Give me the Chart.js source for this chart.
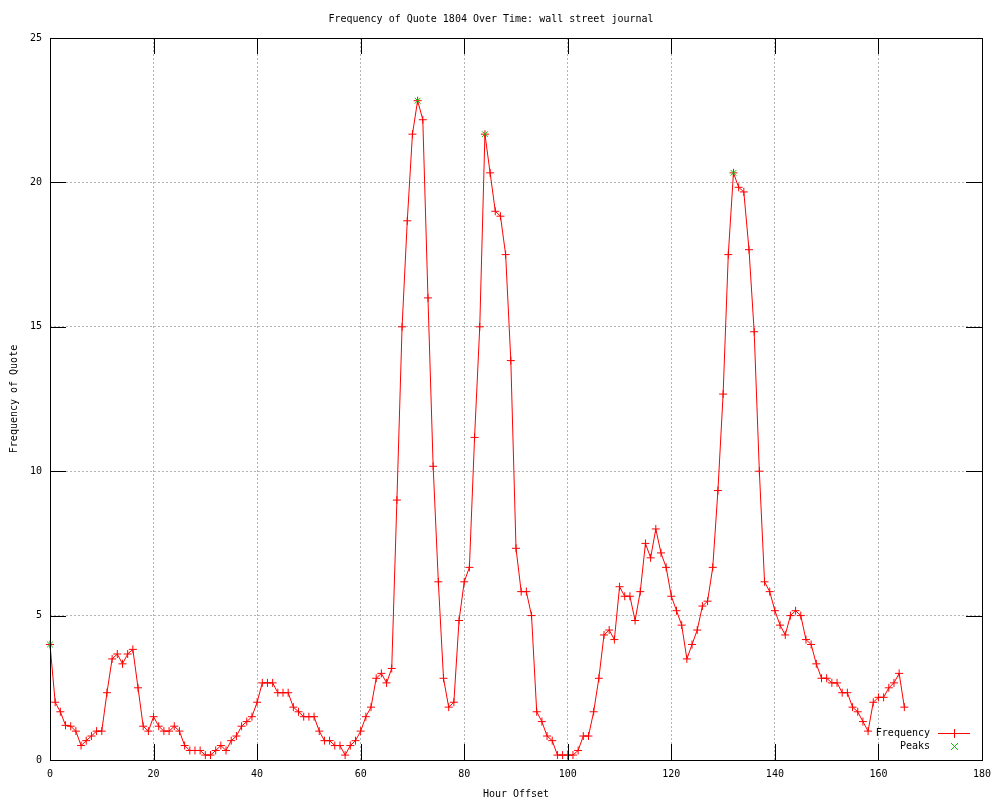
<!DOCTYPE html>
<html>
<head>
<meta charset="utf-8">
<script src="https://cdn.jsdelivr.net/npm/chart.js@4.4.0/dist/chart.umd.min.js"></script>
<style>
  html, body { margin: 0; padding: 0; background: #fff; }
  #wrap { width: 1000px; height: 800px; }
</style>
</head>
<body>
<div id="wrap"><canvas id="quoteChart" width="1000" height="800"></canvas></div>
<script>
// frequency per hour offset (index = hour)
const frequency = [
  4.0, 2.0, 1.67, 1.2, 1.17, 1.0, 0.5, 0.67, 0.83, 1.0,
  1.0, 2.33, 3.5, 3.67, 3.33, 3.67, 3.83, 2.5, 1.17, 1.0,
  1.5, 1.17, 1.0, 1.0, 1.17, 1.0, 0.5, 0.33, 0.33, 0.33,
  0.17, 0.17, 0.33, 0.5, 0.33, 0.67, 0.83, 1.17, 1.33, 1.5,
  2.0, 2.67, 2.67, 2.67, 2.33, 2.33, 2.33, 1.83, 1.67, 1.5,
  1.5, 1.5, 1.0, 0.67, 0.67, 0.5, 0.5, 0.17, 0.5, 0.67,
  1.0, 1.5, 1.83, 2.83, 3.0, 2.67, 3.17, 9.0, 15.0, 18.67,
  21.67, 22.83, 22.17, 16.0, 10.17, 6.17, 2.83, 1.83, 2.0, 4.83,
  6.17, 6.67, 11.17, 15.0, 21.67, 20.33, 19.0, 18.83, 17.5, 13.83,
  7.33, 5.83, 5.83, 5.0, 1.67, 1.33, 0.83, 0.67, 0.17, 0.17,
  0.17, 0.17, 0.33, 0.83, 0.83, 1.67, 2.83, 4.33, 4.5, 4.17,
  6.0, 5.67, 5.67, 4.83, 5.83, 7.5, 7.0, 8.0, 7.17, 6.67,
  5.67, 5.17, 4.67, 3.5, 4.0, 4.5, 5.33, 5.5, 6.67, 9.33,
  12.67, 17.5, 20.33, 19.83, 19.67, 17.67, 14.83, 10.0, 6.17, 5.83,
  5.17, 4.67, 4.33, 5.0, 5.17, 5.0, 4.17, 4.0, 3.33, 2.83,
  2.83, 2.67, 2.67, 2.33, 2.33, 1.83, 1.67, 1.33, 1.0, 2.0,
  2.17, 2.17, 2.5, 2.67, 3.0, 1.83
];
const peakHours = [0, 71, 84, 132];
const peakValues = [4.0, 22.83, 21.67, 20.33];

const xTicks = [0, 20, 40, 60, 80, 100, 120, 140, 160, 180];
const yTicks = [0, 5, 10, 15, 20, 25];

const FONT = { family: "'DejaVu Sans Mono', monospace", size: 10, weight: 'normal' };
const RED = '#ff0000';
const GREEN = '#00c000';

const freqPoints = frequency.map((v, i) => ({ x: i, y: v }));
const peakPoints = peakHours.map((h, i) => ({ x: h, y: peakValues[i] }));

// gnuplot-like frame: border, inward ticks on all four sides, key in the corner
const gnuFrame = {
  id: 'gnuFrame',
  afterDatasetsDraw(chart) {
    const ctx = chart.ctx;
    const a = chart.chartArea;
    const xs = chart.scales.x, ys = chart.scales.y;
    const tl = 16;
    ctx.save();
    ctx.strokeStyle = '#000';
    ctx.lineWidth = 1;
    ctx.beginPath();
    xTicks.forEach(t => {
      const px = Math.round(xs.getPixelForValue(t)) + 0.5;
      ctx.moveTo(px, a.bottom); ctx.lineTo(px, a.bottom - tl);
      ctx.moveTo(px, a.top); ctx.lineTo(px, a.top + tl);
    });
    yTicks.forEach(t => {
      const py = Math.round(ys.getPixelForValue(t)) + 0.5;
      ctx.moveTo(a.left, py); ctx.lineTo(a.left + tl, py);
      ctx.moveTo(a.right, py); ctx.lineTo(a.right - tl, py);
    });
    ctx.stroke();
    ctx.strokeRect(Math.round(a.left) + 0.5, Math.round(a.top) + 0.5,
                   Math.round(a.right - a.left), Math.round(a.bottom - a.top));

    // key
    const kx = a.right - 52, ky = a.bottom - 27;
    ctx.font = FONT.size + 'px ' + FONT.family;
    ctx.fillStyle = '#000';
    ctx.textAlign = 'right';
    ctx.textBaseline = 'middle';
    ctx.fillText('Frequency', kx, ky);
    ctx.fillText('Peaks', kx, ky + 13);
    ctx.strokeStyle = RED;
    ctx.beginPath();
    ctx.moveTo(kx + 8, ky + 0.5); ctx.lineTo(kx + 40, ky + 0.5);
    ctx.moveTo(kx + 24.5, ky - 4); ctx.lineTo(kx + 24.5, ky + 5);
    ctx.stroke();
    ctx.strokeStyle = GREEN;
    ctx.beginPath();
    ctx.moveTo(kx + 21, ky + 10); ctx.lineTo(kx + 28, ky + 17);
    ctx.moveTo(kx + 28, ky + 10); ctx.lineTo(kx + 21, ky + 17);
    ctx.stroke();
    ctx.restore();
  }
};

new Chart(document.getElementById('quoteChart'), {
  type: 'line',
  data: {
    datasets: [
      {
        label: 'Frequency',
        data: freqPoints,
        borderColor: RED,
        backgroundColor: 'transparent',
        borderWidth: 1,
        pointStyle: 'cross',
        pointRadius: 4,
        pointBorderWidth: 1,
        pointBorderColor: RED,
        pointBackgroundColor: 'transparent',
        tension: 0,
        clip: false,
        order: 2
      },
      {
        label: 'Peaks',
        data: peakPoints,
        showLine: false,
        pointStyle: 'crossRot',
        pointRadius: 4,
        pointBorderWidth: 1,
        pointBorderColor: GREEN,
        pointBackgroundColor: 'transparent',
        borderColor: GREEN,
        clip: false,
        order: 1
      }
    ]
  },
  options: {
    responsive: false,
    animation: false,
    events: [],
    layout: { padding: { left: 0, right: 18, top: 0, bottom: 0 } },
    plugins: {
      legend: { display: false },
      tooltip: { enabled: false },
      title: {
        display: true,
        text: 'Frequency of Quote 1804 Over Time: wall street journal',
        color: '#000',
        font: FONT,
        padding: { top: 13, bottom: 13 }
      }
    },
    scales: {
      x: {
        type: 'linear',
        min: 0,
        max: 180,
        afterBuildTicks(s) { s.ticks = xTicks.map(v => ({ value: v })); },
        afterFit(s) { s.height = 40; },
        ticks: { color: '#000', font: FONT, padding: 8, maxRotation: 0 },
        grid: { color: '#b4b4b4', lineWidth: 1, drawTicks: false, tickLength: 0 },
        border: { display: false, dash: [2, 2] },
        title: { display: true, text: 'Hour Offset', color: '#000', font: FONT, padding: { top: 4, bottom: 0 } }
      },
      y: {
        type: 'linear',
        min: 0,
        max: 25,
        afterBuildTicks(s) { s.ticks = yTicks.map(v => ({ value: v })); },
        afterFit(s) { s.width = 50; },
        ticks: { color: '#000', font: FONT, padding: 8 },
        grid: { color: '#b4b4b4', lineWidth: 1, drawTicks: false, tickLength: 0 },
        border: { display: false, dash: [2, 2] },
        title: { display: true, text: 'Frequency of Quote', color: '#000', font: FONT, padding: { top: 8, bottom: 0 } }
      }
    }
  },
  plugins: [gnuFrame]
});
</script>
</body>
</html>
